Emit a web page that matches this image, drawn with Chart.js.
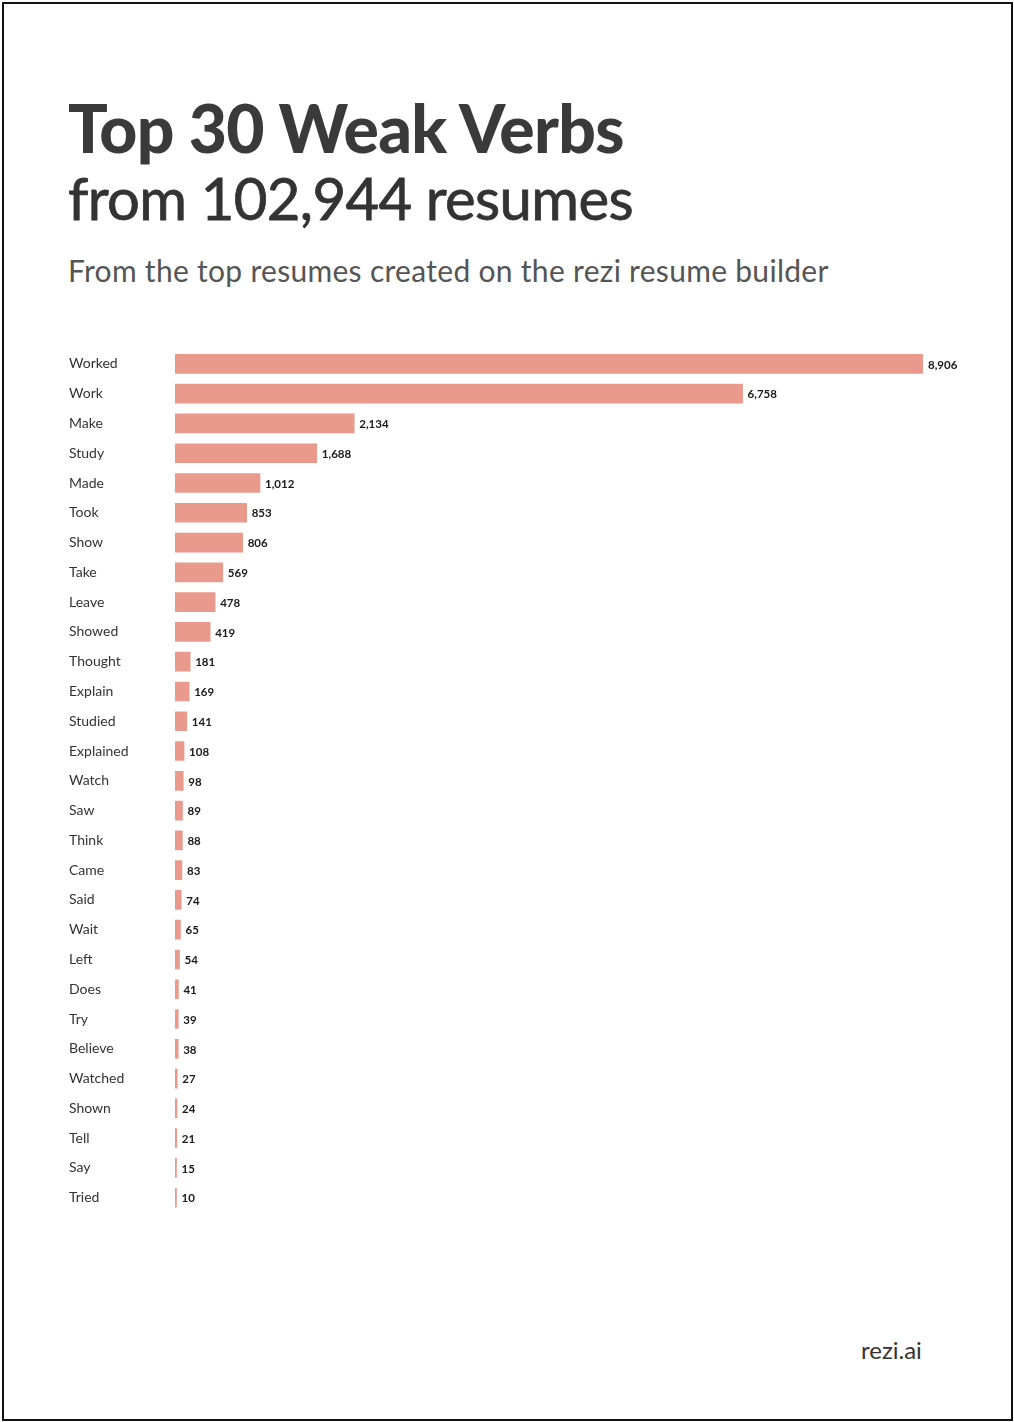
<!DOCTYPE html>
<html>
<head>
<meta charset="utf-8">
<script src="https://cdn.jsdelivr.net/npm/chart.js@4/dist/chart.umd.min.js"></script>
<style>
  html, body { margin: 0; padding: 0; background: #fff; }
  body { width: 1014px; height: 1422px; position: relative; overflow: hidden; font-family: Lato, "Open Sans", sans-serif; }
  .frame { position: absolute; left: 2px; top: 2px; width: 1007px; height: 1415px; border: 2px solid #111; }
  .t1 { position: absolute; left: 68px; top: 88px; font-size: 66px; font-weight: 900; color: #3a3a3a; letter-spacing: -0.7px; white-space: nowrap; }
  .t2 { position: absolute; left: 68px; top: 163px; font-size: 58px; font-weight: 400; color: #333; letter-spacing: -0.6px; white-space: nowrap; -webkit-text-stroke: 0.8px #333; }
  .sub { position: absolute; left: 68px; top: 252px; font-size: 30px; color: #555; letter-spacing: 0.3px; white-space: nowrap; }
  .brand { position: absolute; left: 861px; top: 1335px; font-size: 24px; color: #333; }
  #wrap { position: absolute; left: 69px; top: 340px; width: 900px; height: 881px; }
</style>
</head>
<body>
<div class="frame"></div>
<div class="t1">Top 30 Weak Verbs</div>
<div class="t2">from 102,944 resumes</div>
<div class="sub">From the top resumes created on the rezi resume builder</div>
<div class="brand">rezi.ai</div>
<div id="wrap"><canvas id="c" width="900" height="881"></canvas></div>
<script>
const categories = ["Worked","Work","Make","Study","Made","Took","Show","Take","Leave","Showed","Thought","Explain","Studied","Explained","Watch","Saw","Think","Came","Said","Wait","Left","Does","Try","Believe","Watched","Shown","Tell","Say","Tried"];
const counts = [8906,6758,2134,1688,1012,853,806,569,478,419,181,169,141,108,98,89,88,83,74,65,54,41,39,38,27,24,21,15,10];

const valueLabels = {
  id: 'valueLabels',
  afterDatasetsDraw(chart) {
    const ctx = chart.ctx;
    const meta = chart.getDatasetMeta(0);
    ctx.save();
    ctx.font = 'bold 11.5px Lato, "Open Sans", sans-serif';
    ctx.fillStyle = '#1a1a1a';
    ctx.textAlign = 'left';
    ctx.textBaseline = 'middle';
    meta.data.forEach((bar, i) => {
      ctx.fillText(counts[i].toLocaleString('en-US'), bar.x + 5, bar.y + 1);
    });
    ctx.restore();
  }
};

new Chart(document.getElementById('c'), {
  type: 'bar',
  data: {
    labels: categories,
    datasets: [{
      data: counts,
      backgroundColor: '#e99a8d',
      borderWidth: 0,
      barThickness: 19,
      minBarLength: 1.5
    }]
  },
  options: {
    indexAxis: 'y',
    responsive: false,
    animation: false,
    layout: { padding: { top: 9, bottom: 5, left: 0, right: 46 } },
    plugins: { legend: { display: false }, tooltip: { enabled: false } },
    scales: {
      x: { display: false, min: 0, max: 8906, grid: { display: false } },
      y: {
        grid: { display: false },
        border: { display: false },
        afterFit(scale) { scale.width = 106; },
        ticks: {
          crossAlign: 'far',
          color: '#333',
          font: { family: 'Lato, "Open Sans", sans-serif', size: 14 },
          padding: 0
        }
      }
    }
  },
  plugins: [valueLabels]
});
</script>
</body>
</html>
